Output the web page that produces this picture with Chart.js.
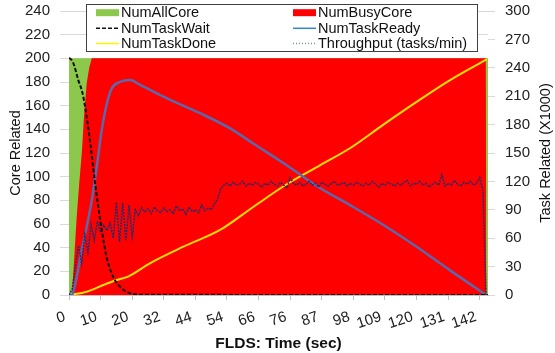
<!DOCTYPE html>
<html>
<head>
<meta charset="utf-8">
<script src="https://cdn.jsdelivr.net/npm/chart.js@4.4.1/dist/chart.umd.min.js"></script>
<style>
  body { margin: 0; background: #fff; }
  canvas { display: block; }
</style>
</head>
<body>
<canvas id="canvas" width="555" height="353"></canvas>
<script>
  //-----------------------
  // - DATA -
  //-----------------------

  // x values are sample positions, one tick label every 10 samples
  const tickSamples = [0, 10, 20, 30, 40, 50, 60, 70, 80, 90, 100, 110, 120, 130];
  const timeLabels = ['0', '10', '20', '32', '44', '54', '66', '76', '87', '98', '109', '120', '131', '142'];
  const coreTicks = [0, 20, 40, 60, 80, 100, 120, 140, 160, 180, 200, 220, 240];
  const taskTicks = [0, 30, 60, 90, 120, 150, 180, 210, 240, 270, 300];

  // core related (left axis)
  const numAllCore = [[0, 200], [132.6, 200]];
  const numBusyCore = [[0, 0], [0.85, 0], [1.17, 10], [1.8, 38], [2.44, 66], [3.26, 95], [4.1, 122],
    [4.75, 151], [5.6, 179], [6.4, 192], [7.2, 200], [131.9, 200], [132.1, 0]];

  // task related x1000 (right axis)
  const numTaskWait = [[0, 250], [0.1, 250], [1.36, 245], [2.94, 227], [4.3, 213], [5.6, 188], [6.87, 157],
    [8.0, 125], [9.27, 93], [10.5, 66], [11.9, 40], [14, 19], [16.7, 7], [19.3, 2], [22.5, 0.3], [132.6, 0]];
  const numTaskReady = [[0, 0], [0.85, 0], [2.44, 19], [4.0, 47], [5.6, 72], [7.2, 100], [8.77, 135],
    [10.35, 174], [11.9, 201], [13.5, 218], [16.1, 225], [19.3, 227], [22.5, 222], [30.9, 208], [41.5, 192],
    [51, 176], [58.3, 160], [68.9, 137], [79.4, 113], [88.9, 95], [99.5, 74], [110, 51], [120.6, 26], [131.6, 1]];
  const numTaskDone = [[0, 0], [5.6, 3.5], [10.9, 10.6], [15.1, 15.8], [18.7, 19.5], [25.6, 33.5], [36.2, 51],
    [47.8, 68.7], [58.3, 93], [68.9, 117], [79.4, 137], [88.9, 155], [99.5, 180], [110, 204], [120.6, 227], [132.2, 249]];

  // throughput, one value per sample
  const throughput = [
    0, 6, 30, 52, 34, 64, 45, 74, 58, 78,
    66, 74, 68, 76, 60, 98, 56, 97, 58, 95,
    62, 90, 84, 92, 88, 91, 86, 93, 89, 87,
    92, 88, 90, 86, 94, 89, 91, 85, 93, 88,
    90, 87, 95, 89, 92, 90, 96, 101, 112, 116,
    118, 115, 119, 116, 117, 120, 115, 118, 116, 119,
    117, 114, 118, 116, 120, 117, 115, 119, 116, 113,
    124, 118, 116, 119, 115, 117, 120, 116, 118, 114,
    119, 117, 115, 118, 120, 116, 117, 119, 115, 118,
    116, 119, 117, 115, 118, 116, 120, 117, 114, 118,
    116, 119, 117, 115, 118, 116, 119, 121, 115, 118,
    117, 120, 116, 118, 114, 117, 119, 116, 127, 115,
    118, 116, 121, 117, 115, 119, 117, 120, 116, 118,
    124, 110, 0
  ];

  //-----------------------
  // - CHART -
  //-----------------------

  Chart.defaults.font.family = "'Liberation Sans', Arial, sans-serif";
  Chart.defaults.color = '#222';

  const pts = arr => arr.map(p => ({ x: p[0], y: p[1] }));

  // vertical axes: fixed width, no extra room for the top label
  const fitSide = w => s => {
    s.width = w;
    s.paddingTop = 0;
    s.paddingBottom = 0;
  };

  // legend box drawn inside the top of the plot, two columns
  const boxLegend = {
    id: 'boxLegend',
    afterDraw(chart) {
      const c = chart.ctx;
      c.save();
      c.fillStyle = '#fff';
      c.fillRect(86.5, 4.5, 391, 47);
      c.strokeStyle = '#404040';
      c.lineWidth = 1;
      c.strokeRect(86.5, 4.5, 391, 47);

      const cols = [96, 293];
      const rows = [12.7, 28.3, 43.5];
      const items = [
        { label: 'NumAllCore', box: '#8CC84B' },
        { label: 'NumBusyCore', box: '#FF0000' },
        { label: 'NumTaskWait', line: '#111', dash: [4, 2], w: 1.5 },
        { label: 'NumTaskReady', line: '#2E86D0', dash: [], w: 1.5 },
        { label: 'NumTaskDone', line: '#FFF200', dash: [], w: 1.5 },
        { label: 'Throughput (tasks/min)', line: '#7a8aa0', dash: [1, 2], w: 1.5 }
      ];
      c.font = "14.5px 'Liberation Sans', Arial, sans-serif";
      c.textBaseline = 'middle';
      items.forEach((it, i) => {
        const x = cols[i % 2];
        const y = rows[Math.floor(i / 2)];
        if (it.box) {
          c.fillStyle = it.box;
          c.fillRect(x, y - 3.5, 23, 7);
        } else {
          c.strokeStyle = it.line;
          c.lineWidth = it.w;
          c.setLineDash(it.dash);
          c.beginPath();
          c.moveTo(x, y);
          c.lineTo(x + 23, y);
          c.stroke();
          c.setLineDash([]);
        }
        c.fillStyle = '#111';
        c.fillText(it.label, x + 25, y + 0.5);
      });

      // right axis title reads bottom to top
      c.translate(546, 153);
      c.rotate(-Math.PI / 2);
      c.textAlign = 'center';
      c.font = "14.5px 'Liberation Sans', Arial, sans-serif";
      c.fillStyle = '#111';
      c.fillText('Task Related (X1000)', 0, 0);
      c.restore();
    }
  };

  const ctx = document.getElementById('canvas').getContext('2d');

  const myChart = new Chart(ctx, {
    type: 'line',
    data: {
      datasets: [{
        label: 'NumTaskWait',
        data: pts(numTaskWait),
        yAxisID: 'y1',
        borderColor: '#111',
        borderWidth: 2,
        borderDash: [4, 2],
        cubicInterpolationMode: 'monotone',
        order: 1
      },
      {
        label: 'Throughput (tasks/min)',
        data: throughput.map((v, i) => ({ x: i, y: v })),
        yAxisID: 'y1',
        borderColor: '#2b2b66',
        borderWidth: 1.5,
        borderDash: [2, 1],
        order: 2
      },
      {
        label: 'NumTaskReady',
        data: pts(numTaskReady),
        yAxisID: 'y1',
        borderColor: '#5A68AC',
        borderWidth: 2.5,
        cubicInterpolationMode: 'monotone',
        order: 3
      },
      {
        label: 'NumTaskDone',
        data: pts(numTaskDone),
        yAxisID: 'y1',
        borderColor: '#FFE000',
        borderWidth: 2,
        cubicInterpolationMode: 'monotone',
        order: 4
      },
      {
        label: 'NumBusyCore',
        data: pts(numBusyCore),
        yAxisID: 'y',
        borderWidth: 0,
        borderColor: '#FF0000',
        backgroundColor: '#FF0000',
        fill: 'origin',
        order: 5
      },
      {
        label: 'NumAllCore',
        data: pts(numAllCore),
        yAxisID: 'y',
        borderWidth: 0,
        borderColor: '#8CC84B',
        backgroundColor: '#8CC84B',
        fill: 'origin',
        order: 6
      }]
    },
    options: {
      responsive: false,
      animation: false,
      devicePixelRatio: 1,
      elements: { point: { radius: 0 }, line: { tension: 0 } },
      layout: { padding: { top: 11, left: 0, right: 0, bottom: 0 } },
      plugins: { legend: { display: false }, tooltip: { enabled: false } },
      scales: {
        x: {
          type: 'linear',
          min: 0,
          max: 132.6,
          afterBuildTicks: s => { s.ticks = tickSamples.map(v => ({ value: v })); },
          afterFit: s => { s.height = 58; },
          ticks: {
            callback: v => timeLabels[tickSamples.indexOf(v)],
            minRotation: 18,
            maxRotation: 18,
            padding: 8,
            labelOffset: -4,
            font: { size: 15 }
          },
          grid: { drawOnChartArea: false, tickLength: 5, color: '#bfbfbf' },
          border: { color: '#bfbfbf' },
          title: {
            display: true,
            text: 'FLDS: Time (sec)',
            color: '#111',
            font: { size: 15.5, weight: 'bold' },
            padding: { top: 0, bottom: 0 }
          }
        },
        y: {
          position: 'left',
          min: 0,
          max: 240,
          afterBuildTicks: s => { s.ticks = coreTicks.map(v => ({ value: v })); },
          afterFit: fitSide(69),
          ticks: { padding: 10, font: { size: 15 } },
          grid: { color: '#d9d9d9', tickLength: 9 },
          border: { display: false },
          title: {
            display: true,
            text: 'Core Related',
            color: '#111',
            font: { size: 14.5 },
            padding: { top: 7, bottom: 0 }
          }
        },
        y1: {
          position: 'right',
          min: 0,
          max: 300,
          afterBuildTicks: s => { s.ticks = taskTicks.map(v => ({ value: v })); },
          afterFit: fitSide(67),
          ticks: { padding: 10, font: { size: 15 } },
          grid: { drawOnChartArea: false, color: '#d9d9d9', tickLength: 7 },
          border: { display: false }
        }
      }
    },
    plugins: [boxLegend]
  });
</script>
</body>
</html>
